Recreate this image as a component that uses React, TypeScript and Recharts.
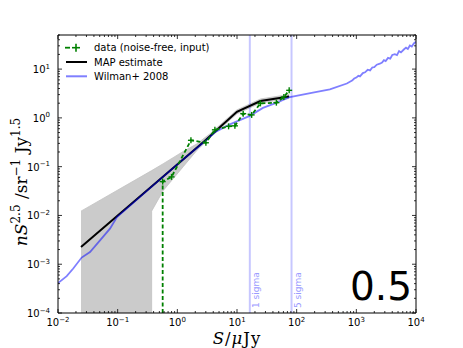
import React from "react";
import {
  ComposedChart,
  Line,
  Area,
  XAxis,
  YAxis,
  ReferenceLine,
  Legend,
  Customized,
} from "recharts";

// stands in for 0 on the log axis, ends up clipped below the frame
const ZERO = 1e-6;

const xMajor = [1e-2, 1e-1, 1, 10, 100, 1000, 10000];
const yMajor = [1e-4, 1e-3, 1e-2, 1e-1, 1, 10];
const xDomain = [0.01, 10000];
const yDomain = [1e-4, 50];

const sigmaS = [16.4, 82];
const sigmaNames = ["1 sigma", "5 sigma"];

// data (noise-free, input)
const dataS = [0.568, 0.568, 0.8, 1.69, 3.01, 4.26, 7.23, 9.22, 12.7, 17.6, 24.7, 45.7, 61, 74.9];
const dataN = [ZERO, 0.0494, 0.0617, 0.347, 0.309, 0.569, 0.671, 0.687, 1.22, 1.15, 1.98, 2.05, 2.68, 3.67];

// MAP estimate
const mapS = [0.0243, 2.9, 9.96, 24.7, 74.9];
const mapN = [0.00225, 0.34, 1.33, 2.22, 2.75];

// credible band around the MAP line
const bandS = [0.0243, 0.371, 0.371, 0.581, 1.256, 2.1, 3.52, 9.96, 24.7, 74.9];
const bandLo = [ZERO, ZERO, 0.01225, 0.0324, 0.1, 0.212, 0.391, 1.21, 2.02, 2.5];
const bandHi = [0.01225, 0.083, 0.083, 0.115, 0.205, 0.29, 0.471, 1.456, 2.44, 3.02];

// Wilman+ 2008
const wilS = [
  0.01, 0.014, 0.018, 0.0249, 0.0344, 0.0506, 0.0743, 0.0973, 0.348, 1.106, 2.9, 4.26, 7.6,
  16.4, 27.2, 46.6, 76.9, 187, 360, 693, 780, 850, 920, 1000, 1080, 1150, 1285, 1400, 1550,
  1700, 1850, 2000, 2200, 2477, 2700, 2900, 3100, 3400, 3700, 4000, 4416, 4800, 5200, 5600,
  6250, 6800, 7300, 7900, 8500, 9200, 10000,
];
const wilN = [
  0.000409, 0.000569, 0.000817, 0.00137, 0.00178, 0.00309, 0.00536, 0.0093, 0.0364, 0.1236,
  0.331, 0.506, 0.736, 1.1, 1.6, 2.05, 2.68, 3.31, 3.85, 5.06, 5.5, 5.8, 6.4, 6.7, 7.3, 7.1,
  8.28, 8.6, 9.7, 9.4, 10.8, 11.0, 12.3, 12.9, 13.6, 15.2, 14.6, 17.0, 16.4, 19.5, 20.2, 19.4,
  23.5, 22.0, 25.2, 27.5, 25.8, 30.5, 29.0, 33.5, 36.4,
];

const legendNames = ["data (noise-free, input)", "MAP estimate", "Wilman+ 2008"];

const dataRows = dataS.map((s, i) => ({ s, n: dataN[i] }));
const mapRows = mapS.map((s, i) => ({ s, n: mapN[i] }));
const bandRows = bandS.map((s, i) => ({ s, lo: bandLo[i], hi: bandHi[i] }));
const wilRows = wilS.map((s, i) => ({ s, n: wilN[i] }));

const withMinor = (majors: number[], max: number) => {
  const out: number[] = [];
  majors.forEach((m) => {
    for (let k = 1; k < 10; k++) if (m * k <= max * 1.0001) out.push(m * k);
  });
  return out;
};
const xTicks = withMinor(xMajor, xDomain[1]);
const yTicks = withMinor(yMajor, yDomain[1]);

const isMajor = (v: number) => Math.abs(Math.log10(v) - Math.round(Math.log10(v))) < 1e-6;

const SANS = "'DejaVu Sans', sans-serif";
const SERIF = "'DejaVu Serif', serif";
const GREEN = "#008000";

function Pow({ x, y, v, anchor }: { x: number; y: number; v: number; anchor: string }) {
  const e = Math.round(Math.log10(v));
  return (
    <text x={x} y={y} textAnchor={anchor} fontFamily={SANS} fontSize={10} fill="#000">
      10
      <tspan dy={-4.5} fontSize={7}>
        {String(e).replace("-", "\u2212")}
      </tspan>
    </text>
  );
}

function XTick(props: any) {
  const { x, y, payload, top } = props;
  const v = payload.value;
  const big = isMajor(v);
  const d = top ? 1 : -1;
  return (
    <g>
      <line x1={x} x2={x} y1={y} y2={y + d * (big ? 4 : 2)} stroke="#000" strokeWidth={0.8} />
      {big && !top && <Pow x={x} y={y + 13} v={v} anchor="middle" />}
    </g>
  );
}

function YTick(props: any) {
  const { x, y, payload, right } = props;
  const v = payload.value;
  const big = isMajor(v);
  const d = right ? -1 : 1;
  return (
    <g>
      <line x1={x} x2={x + d * (big ? 4 : 2)} y1={y} y2={y} stroke="#000" strokeWidth={0.8} />
      {big && !right && <Pow x={x - 8} y={y + 4} v={v} anchor="end" />}
    </g>
  );
}

function Plus(props: any) {
  const { cx, cy, payload } = props;
  if (payload.n <= ZERO || cx == null || cy == null) return <g />;
  const h = 3;
  return (
    <g stroke={GREEN} strokeWidth={1.4}>
      <line x1={cx - h} x2={cx + h} y1={cy} y2={cy} />
      <line x1={cx} x2={cx} y1={cy - h} y2={cy + h} />
    </g>
  );
}

function SigmaLabel(props: any) {
  const { viewBox, text } = props;
  if (!viewBox) return null;
  const bx = viewBox.x + 9;
  const by = viewBox.y + viewBox.height - 5;
  return (
    <text
      x={bx}
      y={by}
      transform={`rotate(-90 ${bx} ${by})`}
      fontFamily={SANS}
      fontSize={9}
      fill="#9a9aff"
    >
      {text}
    </text>
  );
}

function LegendBox() {
  const rows = [9.7, 24, 38.3];
  return (
    <svg width={170} height={48} style={{ display: "block" }}>
      <line x1={5} x2={10} y1={rows[0]} y2={rows[0]} stroke={GREEN} strokeWidth={1.8} />
      <g stroke={GREEN} strokeWidth={1.6}>
        <line x1={12} x2={20} y1={rows[0]} y2={rows[0]} />
        <line x1={16} x2={16} y1={rows[0] - 4} y2={rows[0] + 4} />
      </g>
      <line x1={6} x2={27} y1={rows[1]} y2={rows[1]} stroke="#000" strokeWidth={2} />
      <line x1={6} x2={27} y1={rows[2]} y2={rows[2]} stroke="#0000ff" strokeOpacity={0.5} strokeWidth={2} />
      {legendNames.map((t, i) => (
        <text key={t} x={34} y={rows[i] + 3.6} fontFamily={SANS} fontSize={10} fill="#000">
          {t}
        </text>
      ))}
    </svg>
  );
}

function Titles() {
  return (
    <g fill="#000">
      <text x={237} y={344} textAnchor="middle" fontFamily={SERIF} fontSize={16.5} letterSpacing={1}>
        <tspan fontStyle="italic">S</tspan>/<tspan fontStyle="italic">μ</tspan>Jy
      </text>
      <text
        transform="translate(27 182) rotate(-90)"
        textAnchor="middle"
        fontFamily={SERIF}
        fontSize={17}
      >
        <tspan fontStyle="italic">nS</tspan>
        <tspan dy={-7} fontSize={12}>2.5</tspan>
        <tspan dy={7}> /sr</tspan>
        <tspan dy={-7} fontSize={12}>{"\u22121"}</tspan>
        <tspan dy={7}> Jy</tspan>
        <tspan dy={-7} fontSize={12}>1.5</tspan>
      </text>
      <text x={412} y={300} textAnchor="end" fontFamily={SANS} fontSize={39}>
        0.5
      </text>
    </g>
  );
}

export default function App() {
  return (
    <div style={{ position: "absolute", left: 0, top: 0, background: "#fff" }}>
      <ComposedChart width={463} height={348} margin={{ top: 34, right: 46, bottom: 0, left: 0 }}>
        <XAxis
          xAxisId="b"
          type="number"
          dataKey="s"
          scale="log"
          domain={xDomain}
          allowDataOverflow
          ticks={xTicks}
          interval={0}
          tickSize={0}
          tickMargin={0}
          tickLine={false}
          axisLine={{ stroke: "#000" }}
          height={35}
          tick={(p: any) => <XTick {...p} />}
        />
        <XAxis
          xAxisId="t"
          orientation="top"
          type="number"
          dataKey="s"
          scale="log"
          domain={xDomain}
          allowDataOverflow
          ticks={xTicks}
          interval={0}
          tickSize={0}
          tickMargin={0}
          tickLine={false}
          axisLine={{ stroke: "#000" }}
          height={1}
          tick={(p: any) => <XTick {...p} top />}
        />
        <YAxis
          yAxisId="l"
          type="number"
          scale="log"
          domain={yDomain}
          allowDataOverflow
          ticks={yTicks}
          interval={0}
          tickSize={0}
          tickMargin={0}
          tickLine={false}
          axisLine={{ stroke: "#000" }}
          width={58}
          tick={(p: any) => <YTick {...p} />}
        />
        <YAxis
          yAxisId="r"
          orientation="right"
          type="number"
          scale="log"
          domain={yDomain}
          allowDataOverflow
          ticks={yTicks}
          interval={0}
          tickSize={0}
          tickMargin={0}
          tickLine={false}
          axisLine={{ stroke: "#000" }}
          width={1}
          tick={(p: any) => <YTick {...p} right />}
        />

        <Area
          xAxisId="b"
          yAxisId="l"
          data={bandRows}
          dataKey={(d: any) => [d.lo, d.hi]}
          type="linear"
          fill="#cbcbcb"
          fillOpacity={1}
          stroke="#c2c2c2"
          strokeWidth={0.8}
          isAnimationActive={false}
        />

        {sigmaS.map((s, i) => (
          <ReferenceLine
            key={s}
            xAxisId="b"
            yAxisId="l"
            x={s}
            stroke="#0000ff"
            strokeOpacity={0.22}
            strokeWidth={2}
            label={<SigmaLabel text={sigmaNames[i]} />}
          />
        ))}

        <Line
          xAxisId="b"
          yAxisId="l"
          data={mapRows}
          dataKey="n"
          type="linear"
          stroke="#000"
          strokeWidth={2}
          dot={false}
          isAnimationActive={false}
        />
        <Line
          xAxisId="b"
          yAxisId="l"
          data={wilRows}
          dataKey="n"
          type="linear"
          stroke="#0000ff"
          strokeOpacity={0.5}
          strokeWidth={1.8}
          dot={false}
          isAnimationActive={false}
        />
        <Line
          xAxisId="b"
          yAxisId="l"
          data={dataRows}
          dataKey="n"
          type="linear"
          stroke={GREEN}
          strokeWidth={1.8}
          strokeDasharray="4 2.5"
          dot={(p: any) => <Plus key={p.index} {...p} />}
          isAnimationActive={false}
        />

        <Legend
          layout="horizontal"
          verticalAlign="middle"
          align="center"
          content={() => <LegendBox />}
          wrapperStyle={{ left: 60, top: 38, width: 170, height: 48 }}
        />
        <Customized component={Titles} />
      </ComposedChart>
    </div>
  );
}
